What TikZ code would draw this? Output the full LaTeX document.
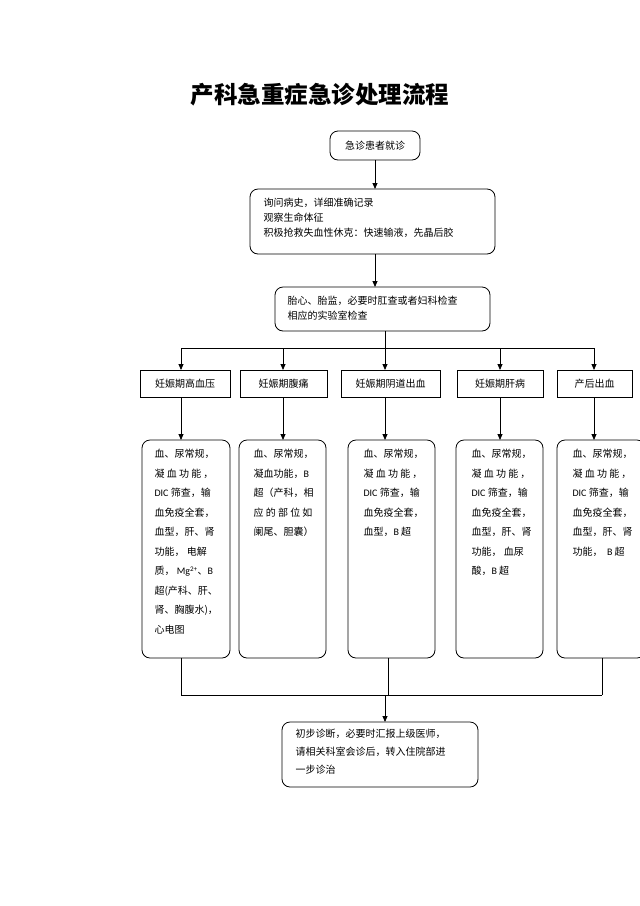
\documentclass[tikz,border=0pt]{standalone}
\usepackage{fontspec}
\setmainfont{Liberation Serif}
\newfontfamily\cjk{Noto Sans CJK SC}
\newfontfamily\lat{Carlito}
\usetikzlibrary{arrows.meta}
\begin{document}
\begin{tikzpicture}[x=1pt,y=-1pt,
  bx/.style={draw,rounded corners=8pt,line width=0.8pt,inner sep=0pt},
  t/.style={font=\cjk\fontsize{10}{15}\selectfont,align=left,anchor=north west},
  td/.style={font=\cjk\fontsize{10}{19.5}\selectfont,align=left,anchor=north west},
  ln/.style={line width=0.8pt},
  ar/.style={ln,-{Triangle[length=6pt,width=5pt]}}]
\useasboundingbox (0,0) rectangle (640,906);
\node[font=\cjk\bfseries\fontsize{23.5}{28}\selectfont] (title) at (320,95) {产科急重症急诊处理流程};
% top boxes
\draw[bx] (330,131) rectangle (420,160);
\node[font=\cjk\fontsize{10}{12}\selectfont] (t1) at (375,145.5) {急诊患者就诊};
\draw[bx] (250,189) rectangle (495,254);
\node[t] (t2) at (260,195) {询问病史，详细准确记录\\观察生命体征\\积极抢救失血性休克：快速输液，先晶后胶};
\draw[bx] (275,287) rectangle (490,331);
\node[t] (t3) at (284,292) {胎心、胎监，必要时肛查或者妇科检查\\相应的实验室检查};
\coordinate (c1) at (375,160); \coordinate (c2) at (375,189);
\draw[ar] (c1) -- (c2);
\coordinate (c3) at (375,254); \coordinate (c4) at (375,287);
\draw[ar] (c3) -- (c4);
\coordinate (c5) at (385,331); \coordinate (c6) at (385,348);
\draw[ln] (c5) -- (c6);
\coordinate (hl) at (181,348); \coordinate (hr) at (594,348);
\draw[ln] (hl) -- (hr);
% level 2
\foreach \x/\a/\b/\txt in {181/140/230/妊娠期高血压,283/240/327/妊娠期腹痛,385/341/440/妊娠期阴道出血,500/457/543/妊娠期肝病,594/557/632/产后出血}{
  \draw[ar] (\x,348) -- (\x,370);
  \draw[ln] (\a,370) rectangle (\b,397);
  \node[font=\cjk\fontsize{10}{12}\selectfont] at ({(\a+\b)/2},383.5) {\txt};
  \draw[ar] (\x,397) -- (\x,440);
}
% detail boxes
\draw[bx] (142,440) rectangle (230,658);
\node[td] at (151,446) {血、尿常规，\\凝 血 功 能 ，\\{\lat DIC} 筛查，输\\血免疫全套，\\血型，肝、肾\\功能， 电解\\质， {\lat Mg\textsuperscript{2+}}、{\lat B}\\超(产科、肝、\\肾、胸腹水)，\\心电图};
\draw[bx] (239,440) rectangle (326,658);
\node[td] at (250,446) {血、尿常规，\\凝血功能，{\lat B}\\超（产科，相\\应 的 部 位 如\\阑尾、胆囊）};
\draw[bx] (348,440) rectangle (435,658);
\node[td] at (360,446) {血、尿常规，\\凝 血 功 能 ，\\{\lat DIC} 筛查，输\\血免疫全套，\\血型，{\lat B} 超};
\draw[bx] (456,440) rectangle (543,658);
\node[td] at (468,446) {血、尿常规，\\凝 血 功 能 ，\\{\lat DIC} 筛查，输\\血免疫全套，\\血型，肝、肾\\功能， 血尿\\酸，{\lat B} 超};
\draw[bx] (557,440) rectangle (645,658);
\node[td] at (569,446) {血、尿常规，\\凝 血 功 能 ，\\{\lat DIC} 筛查，输\\血免疫全套，\\血型，肝、肾\\功能，\ \ {\lat B} 超};
% bottom
\foreach \x in {181,388,602} \draw[ln] (\x,658) -- (\x,695);
\coordinate (bl) at (181,695); \coordinate (br) at (602,695);
\draw[ln] (bl) -- (br);
\coordinate (d1) at (385,695); \coordinate (d2) at (385,722);
\draw[ar] (d1) -- (d2);
\draw[bx] (282,722) rectangle (478,787);
\node[t,font=\cjk\fontsize{10}{18}\selectfont] at (292,726) {初步诊断，必要时汇报上级医师，\\请相关科室会诊后，转入住院部进\\一步诊治};
\end{tikzpicture}
\end{document}
